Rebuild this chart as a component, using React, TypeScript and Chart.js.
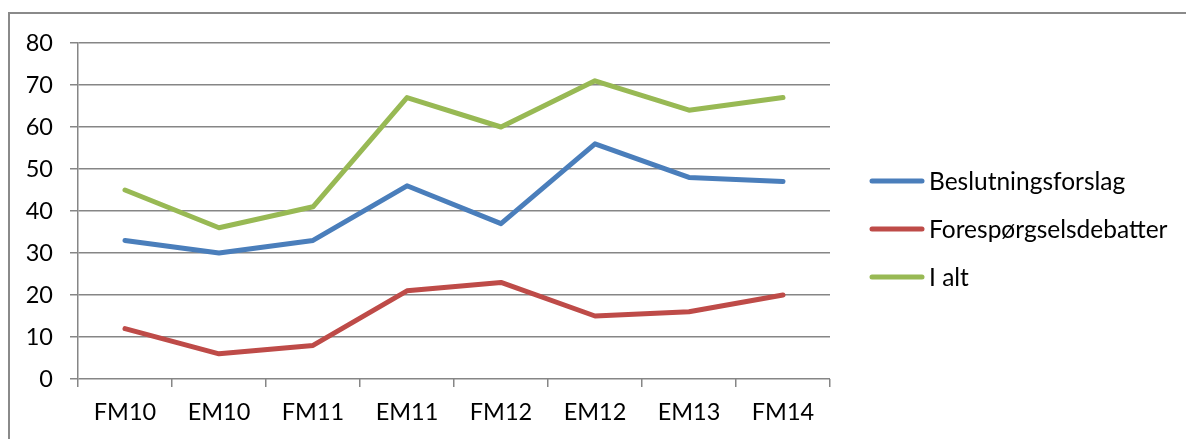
import React, { useEffect, useRef } from "react";
import { Chart, registerables } from "chart.js";

Chart.register(...registerables);

const categories = ["FM10", "EM10", "FM11", "EM11", "FM12", "EM12", "EM13", "FM14"];
const beslutningsforslag = [33, 30, 33, 46, 37, 56, 48, 47];
const foresporgselsdebatter = [12, 6, 8, 21, 23, 15, 16, 20];
const iAlt = [45, 36, 41, 67, 60, 71, 64, 67];
const seriesNames = ["Beslutningsforslag", "Forespørgselsdebatter", "I alt"];
const seriesColors = ["#4A7EBB", "#BE4B48", "#98B954"];

const FONT = "Lato, 'Noto Sans', sans-serif";

const legendPlugin = {
  id: "customLegend",
  afterDraw(chart: any) {
    const ctx = chart.ctx;
    const x0 = chart.chartArea.right + 42;
    const rowGap = 48;
    const n = chart.data.datasets.length;
    const midY = 229;
    ctx.save();
    chart.data.datasets.forEach((ds: any, i: number) => {
      const y = midY + (i - (n - 1) / 2) * rowGap;
      ctx.strokeStyle = ds.borderColor;
      ctx.lineWidth = 5;
      ctx.lineCap = "round";
      ctx.beginPath();
      ctx.moveTo(x0, y);
      ctx.lineTo(x0 + 50, y);
      ctx.stroke();
      ctx.fillStyle = "#000";
      ctx.font = `24.5px ${FONT}`;
      ctx.textBaseline = "middle";
      ctx.textAlign = "left";
      ctx.fillText(ds.label, x0 + 57, y + 1);
    });
    ctx.restore();
  },
};

export default function App() {
  const ref = useRef<HTMLCanvasElement | null>(null);
  useEffect(() => {
    document.body.style.margin = "0";
    const ctx = ref.current!;
    const chart = new Chart(ctx, {
      type: "line",
      data: {
        labels: categories,
        datasets: [beslutningsforslag, foresporgselsdebatter, iAlt].map((d, i) => ({
          label: seriesNames[i],
          data: d,
          borderColor: seriesColors[i],
          backgroundColor: seriesColors[i],
          borderWidth: 5,
          borderCapStyle: "round",
          borderJoinStyle: "round",
          pointRadius: 0,
          tension: 0,
        })),
      },
      options: {
        animation: false,
        responsive: false,
        devicePixelRatio: 1,
        layout: { padding: { left: 0, top: 43, right: 356, bottom: 0 } },
        plugins: { legend: { display: false }, tooltip: { enabled: false } },
        scales: {
          x: {
            type: "category",
            offset: true,
            grid: {
              offset: true,
              drawOnChartArea: false,
              drawTicks: true,
              tickLength: 8,
              color: "#868686",
              lineWidth: 1.5,
            },
            border: { display: false },
            ticks: { color: "#000", font: { family: FONT, size: 23.5 }, padding: 11, maxRotation: 0 },
            afterFit(scale: any) {
              scale.height = 60;
            },
          },
          y: {
            min: 0,
            max: 80,
            ticks: { stepSize: 10, color: "#000", font: { family: FONT, size: 23.5 }, padding: 17 },
            grid: { color: "#868686", lineWidth: 1.5, tickLength: 8 },
            border: { display: true, color: "#868686", width: 1.5 },
            afterFit(scale: any) {
              scale.width = 78;
            },
          },
        },
      },
      plugins: [legendPlugin],
    } as any);
    return () => chart.destroy();
  }, []);
  return (
    <div style={{ position: "fixed", left: 0, top: 0, width: 1186, height: 439, background: "#fff", overflow: "hidden" }}>
      <div
        style={{
          position: "absolute",
          left: 8,
          top: 12,
          width: 1200,
          height: 460,
          border: "2px solid #8a8a8a",
          boxSizing: "border-box",
        }}
      />
      <canvas ref={ref} width={1186} height={439} style={{ position: "absolute", left: 0, top: 0 }} />
    </div>
  );
}
